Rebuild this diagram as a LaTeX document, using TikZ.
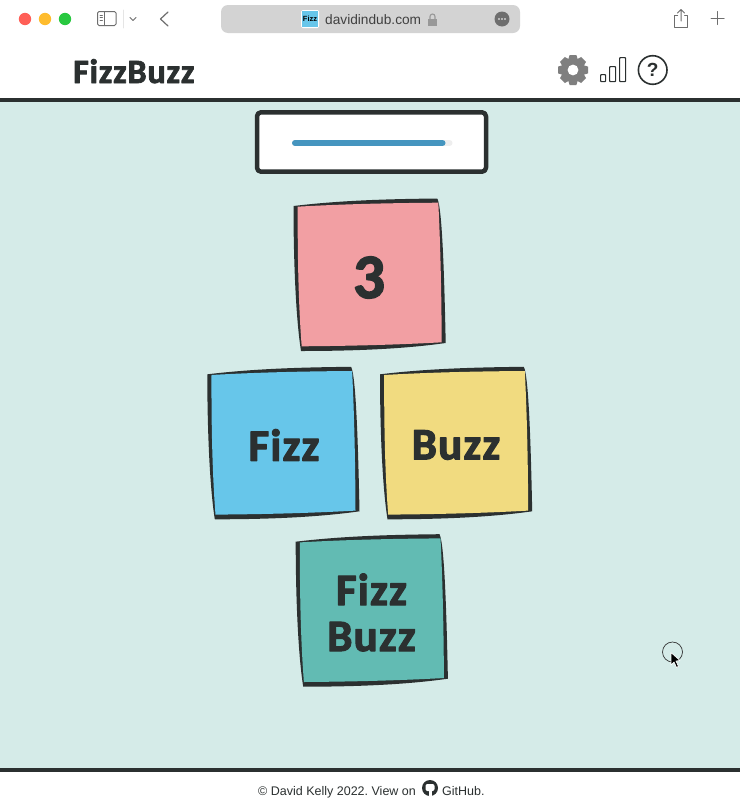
\documentclass[tikz,border=0pt]{standalone}
\usepackage{fontspec}
\setmainfont{Liberation Sans}
\newfontfamily\handfont[FakeBold=2.4,LetterSpace=2.5]{Carlito Bold}
\usetikzlibrary{positioning}
\frenchspacing
\definecolor{ink}{HTML}{2B3030}
\definecolor{pagebg}{HTML}{D5EBE8}
\definecolor{cardred}{HTML}{F29FA3}
\definecolor{cardblue}{HTML}{67C6EA}
\definecolor{cardyellow}{HTML}{F1DB80}
\definecolor{cardteal}{HTML}{62BBB3}
\definecolor{barblue}{HTML}{4595BF}
\definecolor{bartrack}{HTML}{EEEEEE}
\definecolor{urlbar}{HTML}{D3D3D3}
\definecolor{chrome}{HTML}{6E6E6E}
\definecolor{gearcol}{HTML}{7F7F7F}
\definecolor{closebtn}{HTML}{FF5F57}
\definecolor{minbtn}{HTML}{FEBC2E}
\definecolor{zoombtn}{HTML}{28C840}
\tikzset{
  every picture/.style={line cap=round, line join=round},
  rule/.style={fill=ink},
  chromeline/.style={chrome, line width=1pt},
  iconline/.style={ink, line width=1.2pt},
  cardtext/.style={inner sep=0pt, text=ink, align=center},
  % sketchy card, the corners are taken from the top left of the outer edge
  card/.pic={
    \fill[ink] (0,0) .. controls (50,-6) and (100,-7) .. (143.8,-7.5)
      .. controls (149,2) and (151,80) .. (152.2,137)
      .. controls (110,143) and (60,145) .. (7.5,145)
      .. controls (2,110) and (0,50) .. cycle;
    \fill[pic actions] (4.2,0.7) .. controls (50,-2) and (100,-3) .. (144.8,-3.3)
      .. controls (147,40) and (148,90) .. (148.2,136.3)
      .. controls (100,139) and (50,140) .. (8.2,140.3)
      .. controls (5,100) and (4,50) .. cycle;
  },
}
\begin{document}
\begin{tikzpicture}[x=1pt, y=-1pt]
  \useasboundingbox (0,0) rectangle (740,806);
  \fill[white] (0,0) rectangle (740,806);
  % page
  \fill[pagebg] (0,102) rectangle (740,768);
  \fill[rule] (0,98) rectangle (740,102);
  \fill[rule] (0,768) rectangle (740,772);
  % window buttons
  \fill[closebtn] (25,19) circle (6.2);
  \fill[minbtn] (45,19) circle (6.2);
  \fill[zoombtn] (65,19) circle (6.2);
  \draw[chromeline, rounded corners=1.5] (97.5,11.5) rectangle (116,25.5);
  \draw[chromeline] (104.5,11.5) -- (104.5,25.5);
  \draw[chrome, line width=0.7pt] (100,15) -- (102.5,15) (100,17.5) -- (102.5,17.5) (100,20) -- (102.5,20);
  \draw[black!10, line width=0.6pt] (123.5,10) -- (123.5,28);
  \draw[chromeline] (130,17.5) -- (133,20.5) -- (136,17.5);
  \draw[chromeline, line width=1.2pt] (168,12) -- (160.5,19) -- (168,26);
  % address bar
  \fill[urlbar, rounded corners=7] (221,5) rectangle (520,33);
  \fill[white, rounded corners=1.5] (301,10) rectangle (319,28);
  \fill[cardblue] (302,11) rectangle (318,27);
  \node[inner sep=0pt, font=\bfseries\fontsize{7.5}{8}\selectfont] (favicon) at (310,19) {Fizz};
  \node[inner sep=0pt, anchor=base west, text=black!75, font=\fontsize{13.7}{16}\selectfont] (urltext) at (325,24) {davidindub.com};
  \fill[gearcol!80] (428,19) rectangle (437,26);
  \draw[gearcol!80, line width=1.1pt] (430,19) -- (430,16.5) arc[start angle=180, end angle=360, radius=2.5] -- (435,19);
  \fill[chrome] (502,19) circle (7.5);
  \foreach \dx in {-3,0,3} \fill[white] (502+\dx,19) circle (0.8);
  % share and new tab
  \draw[chromeline] (677.5,15.5) -- (674.5,15.5) -- (674.5,27.5) -- (687.5,27.5) -- (687.5,15.5) -- (684.5,15.5);
  \draw[chromeline] (681,21) -- (681,10) (677.5,13) -- (681,9.5) -- (684.5,13);
  \draw[chromeline] (711,18) -- (724,18) (717.5,11.5) -- (717.5,24.5);
  % header
  \node[inner sep=0pt, anchor=base west, text=ink, font=\handfont\fontsize{34}{34}\selectfont] (title) at (73,83) {FizzBuzz};
  \fill[gearcol] (573,70) circle (11);
  \foreach \a in {0,45,...,315} \fill[gearcol, rotate around={\a:(573,70)}] (569.6,55) -- (576.4,55) -- (578.5,62) -- (567.5,62) -- cycle;
  \fill[white] (573,70) circle (5.4);
  \draw[iconline, rounded corners=0.8] (600.6,74.6) rectangle (605.6,81.6);
  \draw[iconline, rounded corners=0.8] (609.6,66.6) rectangle (615.6,81.6);
  \draw[iconline, rounded corners=0.8] (619.6,57.6) rectangle (625.6,81.6);
  \draw[ink, line width=1.6pt] (652.7,70) circle (14.3);
  \node[inner sep=0pt, text=ink, font=\bfseries\fontsize{19}{19}\selectfont] (help) at (652.7,70) {?};
  % progress box
  \draw[ink, fill=white, line width=4.5pt, rounded corners=4] (257,112.3) rectangle (486,171.7);
  \draw[bartrack, line width=6pt] (295,143) -- (449.5,143);
  \draw[barblue, line width=6pt] (295,143) -- (442.5,143);
  % cards
  \pic[fill=cardred] at (293.5,206) {card};
  \pic[fill=cardblue] at (207.3,374.3) {card};
  \pic[fill=cardyellow] at (380,374.3) {card};
  \pic[fill=cardteal] at (295.7,541.7) {card};
  \node[cardtext, font=\handfont\fontsize{63}{63}\selectfont] (three) at (369,277.5) {3};
  \node[cardtext, font=\handfont\fontsize{45}{46}\selectfont] (fizz) at (284,445) {Fizz};
  \node[cardtext, font=\handfont\fontsize{45}{46}\selectfont] (buzz) at (456,445) {Buzz};
  \node[cardtext, font=\handfont\fontsize{45}{46}\selectfont] (fizzbuzz) at (371.5,612.5) {Fizz\\Buzz};
  % cursor
  \draw[black!80, line width=0.7pt] (672.5,652) circle (10);
  \fill[black, draw=white, line width=0.7pt] (671,652.5) -- (671,665) -- (674,662) -- (676.5,667.5) -- (678.5,666.5) -- (676,661) -- (680,660.5) -- cycle;
  % footer
  \node[inner sep=0pt, anchor=base west, text=ink, font=\fontsize{12.5}{14}\selectfont] (credit) at (258,795) {© David Kelly 2022. View on};
  \fill[ink] (430,788) circle (8);
  \fill[white, rounded corners=2] (425.5,784) rectangle (434.5,791);
  \fill[white] (428.5,790) rectangle (431.5,796);
  \node[inner sep=0pt, anchor=base west, text=ink, font=\fontsize{12.5}{14}\selectfont] (github) at (442,795) {GitHub.};
\end{tikzpicture}
\end{document}
